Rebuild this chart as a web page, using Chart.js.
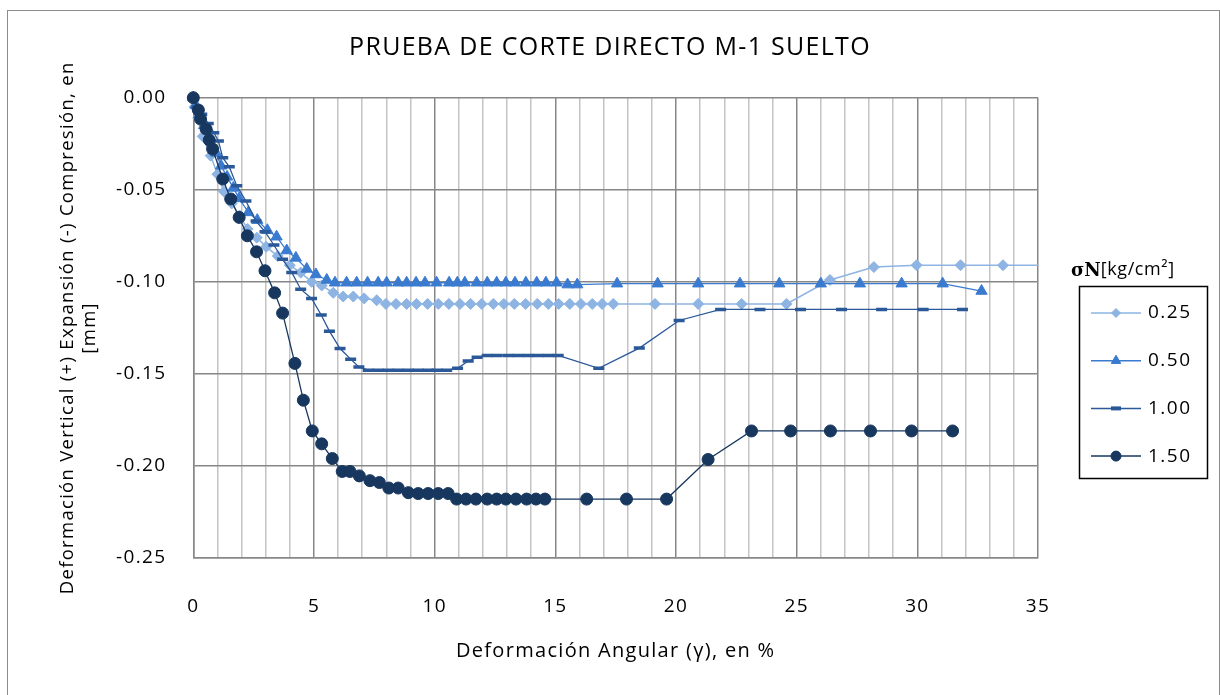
<!DOCTYPE html>
<html>
<head>
  <title>Prueba de corte directo M-1 suelto</title>
  <script src="https://cdn.jsdelivr.net/npm/chart.js@4.4.0/dist/chart.umd.min.js"></script>
  <style>
    body { margin: 0; background: #fff; }
    #wrap { width: 1220px; height: 695px; }
  </style>
</head>
<body>
<div id="wrap"><canvas id="chart" width="1220" height="695"></canvas></div>
<script>
// esfuerzo normal sigmaN [kg/cm2] de cada ensayo
var seriesLabels = ["0.25", "0.50", "1.00", "1.50"];

// deformacion angular (%) y deformacion vertical (mm)
var x025 = [0, 0.05, 0.2, 0.39, 0.72, 1.0, 1.27, 1.59, 1.92, 2.25, 2.63, 3.02, 3.5, 4.0, 4.45, 4.9, 5.32, 5.8, 6.21, 6.63, 7.08, 7.6,
  7.98, 8.4, 8.84, 9.25, 9.71, 10.15, 10.59, 11.05, 11.49, 11.95, 12.43, 12.87, 13.3, 13.77, 14.25, 14.71, 15.14, 15.6, 16.06, 16.53, 16.94, 17.4,
  19.13, 20.92, 22.72, 24.58, 26.38, 28.2, 29.97, 31.79, 33.55, 35.35];
var y025 = [0, -0.005, -0.011, -0.021, -0.0315, -0.0416, -0.051, -0.0574, -0.064, -0.0713, -0.076, -0.081, -0.086, -0.091, -0.095, -0.100, -0.102, -0.106, -0.108, -0.108, -0.109, -0.110,
  -0.112, -0.112, -0.112, -0.112, -0.112, -0.112, -0.112, -0.112, -0.112, -0.112, -0.112, -0.112, -0.112, -0.112, -0.112, -0.112, -0.112, -0.112, -0.112, -0.112, -0.112, -0.112,
  -0.112, -0.112, -0.112, -0.112, -0.099, -0.092, -0.091, -0.091, -0.091, -0.091];

var x050 = [0, 0.1, 0.25, 0.45, 0.7, 0.95, 1.15, 1.4, 1.66, 1.9, 2.28, 2.65, 3.07, 3.45, 3.87, 4.25, 4.7, 5.08, 5.53, 5.87,
  6.35, 6.77, 7.22, 7.66, 8.01, 8.49, 8.84, 9.23, 9.6, 10.08, 10.6, 10.94, 11.25, 11.74, 12.18, 12.57, 12.95, 13.33, 13.78, 14.23, 14.61, 15.05,
  15.51, 15.91, 17.56, 19.24, 20.92, 22.65, 24.28, 26.0, 27.62, 29.35, 31.05, 32.66];
var y050 = [0, -0.004, -0.009, -0.015, -0.022, -0.03, -0.037, -0.043, -0.049, -0.0547, -0.0623, -0.0665, -0.072, -0.0755, -0.083, -0.087, -0.093, -0.096, -0.099, -0.1005,
  -0.1005, -0.1005, -0.1005, -0.1005, -0.1005, -0.1005, -0.1005, -0.1005, -0.1005, -0.1005, -0.1005, -0.1005, -0.1005, -0.1005, -0.1005, -0.1005, -0.1005, -0.1005, -0.1005, -0.1005, -0.1005, -0.1005,
  -0.1015, -0.1015, -0.101, -0.101, -0.101, -0.101, -0.101, -0.101, -0.101, -0.101, -0.101, -0.105];

var x100 = [0, 0.15, 0.35, 0.62, 0.85, 1.04, 1.22, 1.49, 1.8, 2.18, 2.6, 2.97, 3.34, 3.7, 4.08, 4.45, 4.9, 5.3, 5.64, 6.08,
  6.52, 6.86, 7.25, 7.66, 8.08, 8.49, 8.91, 9.32, 9.73, 10.1, 10.5, 10.95, 11.39, 11.76, 12.18, 12.59, 13.05, 13.46, 13.88, 14.29,
  14.71, 15.12, 16.8, 18.48, 20.13, 21.85, 23.48, 25.16, 26.86, 28.52, 30.24, 31.87];
var y100 = [0, -0.005, -0.009, -0.014, -0.019, -0.0235, -0.0326, -0.0375, -0.0478, -0.0561, -0.067, -0.0728, -0.080, -0.0878, -0.0949, -0.104, -0.109, -0.118, -0.1268, -0.1362,
  -0.142, -0.1462, -0.148, -0.148, -0.148, -0.148, -0.148, -0.148, -0.148, -0.148, -0.148, -0.147, -0.143, -0.141, -0.140, -0.140, -0.140, -0.140, -0.140, -0.140,
  -0.140, -0.140, -0.147, -0.136, -0.121, -0.115, -0.115, -0.115, -0.115, -0.115, -0.115, -0.115];

var x150 = [0, 0.21, 0.3, 0.53, 0.66, 0.8, 1.22, 1.55, 1.9, 2.24, 2.62, 2.97, 3.37, 3.7, 4.21, 4.56, 4.93, 5.32, 5.76, 6.17,
  6.49, 6.88, 7.32, 7.71, 8.1, 8.49, 8.91, 9.32, 9.73, 10.15, 10.56, 10.91, 11.3, 11.71, 12.18, 12.57, 12.95, 13.37, 13.81, 14.2,
  14.57, 16.3, 17.95, 19.61, 21.33, 23.13, 24.75, 26.4, 28.06, 29.76, 31.46];
var y150 = [0, -0.0067, -0.0116, -0.017, -0.023, -0.0279, -0.0442, -0.055, -0.065, -0.075, -0.0837, -0.094, -0.106, -0.117, -0.1443, -0.1643, -0.181, -0.188, -0.196, -0.203,
  -0.203, -0.2054, -0.208, -0.209, -0.212, -0.212, -0.2145, -0.215, -0.215, -0.215, -0.215, -0.218, -0.218, -0.218, -0.218, -0.218, -0.218, -0.218, -0.218, -0.218,
  -0.218, -0.218, -0.218, -0.218, -0.1965, -0.181, -0.181, -0.181, -0.181, -0.181, -0.181];

var xTickLabels = [0, 5, 10, 15, 20, 25, 30, 35];
var yTickLabels = [0, -0.05, -0.10, -0.15, -0.20, -0.25];

var FONT = "'Open Sans', sans-serif";

function toPoints(xs, ys) {
  return xs.map(function(x, i) { return { x: x, y: ys[i] }; });
}

// fondo, marco exterior gris y espaciado de letras para todo el texto
var frame = {
  id: "frame",
  beforeDraw: function(chart) {
    var ctx = chart.ctx;
    ctx.save();
    ctx.fillStyle = "#fff";
    ctx.fillRect(0, 0, chart.width, chart.height);
    ctx.strokeStyle = "#8c8c8c";
    ctx.lineWidth = 1;
    ctx.strokeRect(7.5, 10.5, 1212, 700);
    ctx.restore();
    ctx.letterSpacing = "1.3px";
  }
};

// leyenda con recuadro, como en la hoja original
var legendBox = {
  id: "legendBox",
  afterDraw: function(chart) {
    var ctx = chart.ctx;
    ctx.save();
    ctx.textBaseline = "middle";
    ctx.textAlign = "left";
    ctx.fillStyle = "#000";
    ctx.font = "bold 18px 'DejaVu Serif'";
    ctx.letterSpacing = "0px";
    ctx.fillText("σN", 1071, 271);
    var w = ctx.measureText("σN").width;
    ctx.font = "18px " + FONT;
    ctx.letterSpacing = "0.6px";
    ctx.fillText("[kg/cm²]", 1071 + w, 270);

    ctx.strokeStyle = "#000";
    ctx.lineWidth = 1.5;
    ctx.strokeRect(1079.5, 286.5, 128, 192);

    var sizes = [4.5, 5.5, 5, 5];
    chart.data.datasets.forEach(function(ds, i) {
      var y = 313 + i * 47.7;
      ctx.strokeStyle = ds.borderColor;
      ctx.lineWidth = 1.5;
      ctx.beginPath();
      ctx.moveTo(1091, y);
      ctx.lineTo(1141, y);
      ctx.stroke();
      ctx.fillStyle = ds.pointBackgroundColor;
      ctx.strokeStyle = ds.pointBorderColor;
      ctx.lineWidth = ds.pointStyle === "line" ? 4 : 1;
      Chart.helpers.drawPoint(ctx, {
        pointStyle: ds.pointStyle,
        radius: sizes[i],
        borderWidth: ctx.lineWidth,
        rotation: 0
      }, 1116, y);
      ctx.fillStyle = "#000";
      ctx.font = "19px " + FONT;
      ctx.letterSpacing = "1.5px";
      ctx.fillText(ds.label, 1148, y);
    });
    ctx.restore();
  }
};

var ctx = document.getElementById("chart").getContext("2d");
var chart = new Chart(ctx, {
  type: "scatter",
  data: {
    datasets: [{
      label: seriesLabels[0],
      data: toPoints(x025, y025),
      showLine: true,
      borderColor: "#8DB4E2",
      backgroundColor: "#8DB4E2",
      pointBackgroundColor: "#8DB4E2",
      pointBorderColor: "#8DB4E2",
      borderWidth: 1.5,
      pointStyle: "rectRot",
      pointRadius: 5.5,
      pointBorderWidth: 1,
      order: 4,
      clip: { left: 12, top: 12, right: 0, bottom: 0 }
    }, {
      label: seriesLabels[1],
      data: toPoints(x050, y050),
      showLine: true,
      borderColor: "#3A7BD0",
      backgroundColor: "#3A7BD0",
      pointBackgroundColor: "#3A7BD0",
      pointBorderColor: "#3A7BD0",
      borderWidth: 1.3,
      pointStyle: "triangle",
      pointRadius: 6.5,
      pointBorderWidth: 1,
      order: 3,
      clip: { left: 12, top: 12, right: 0, bottom: 0 }
    }, {
      label: seriesLabels[2],
      data: toPoints(x100, y100),
      showLine: true,
      borderColor: "#2A5898",
      backgroundColor: "#2A5898",
      pointBackgroundColor: "#2A5898",
      pointBorderColor: "#2A5898",
      borderWidth: 1.3,
      pointStyle: "line",
      pointRadius: 5.5,
      pointBorderWidth: 3.5,
      order: 2,
      clip: { left: 12, top: 12, right: 0, bottom: 0 }
    }, {
      label: seriesLabels[3],
      data: toPoints(x150, y150),
      showLine: true,
      borderColor: "#17375E",
      backgroundColor: "#17375E",
      pointBackgroundColor: "#17375E",
      pointBorderColor: "#17375E",
      borderWidth: 1.3,
      pointStyle: "circle",
      pointRadius: 6,
      pointBorderWidth: 1,
      order: 1,
      clip: { left: 12, top: 12, right: 0, bottom: 0 }
    }]
  },
  options: {
    responsive: false,
    animation: false,
    devicePixelRatio: 1,
    layout: { padding: 0 },
    plugins: {
      legend: { display: false },
      tooltip: { enabled: false },
      title: {
        display: true,
        text: "PRUEBA DE CORTE DIRECTO M-1 SUELTO",
        color: "#000",
        font: { family: FONT, size: 25, weight: "normal" },
        padding: { top: 33, bottom: 34.7 }
      }
    },
    scales: {
      x: {
        type: "linear",
        min: 0,
        max: 35,
        afterFit: function(scale) { scale.height = 137; },
        ticks: {
          stepSize: 1,
          autoSkip: false,
          maxRotation: 0,
          padding: 37,
          color: "#000",
          font: { family: FONT, size: 19 },
          callback: function(v) { return xTickLabels.indexOf(v) >= 0 ? String(v) : ""; }
        },
        grid: {
          drawTicks: false,
          lineWidth: 1.5,
          color: function(c) { return c.tick && c.tick.value % 5 === 0 ? "#878787" : "#C4C4C4"; }
        },
        border: { color: "#878787", width: 1.5 },
        title: {
          display: true,
          text: "Deformación Angular (γ), en %",
          color: "#000",
          font: { family: FONT, size: 20 },
          padding: { top: 0, bottom: 32 }
        }
      },
      y: {
        type: "linear",
        min: -0.25,
        max: 0,
        afterFit: function(scale) { scale.width = 193.3; },
        ticks: {
          stepSize: 0.05,
          padding: 27,
          color: "#000",
          font: { family: FONT, size: 19 },
          callback: function(v) {
            for (var i = 0; i < yTickLabels.length; i++) {
              if (Math.abs(yTickLabels[i] - v) < 1e-9) return yTickLabels[i].toFixed(2);
            }
            return "";
          }
        },
        grid: { drawTicks: false, lineWidth: 1.5, color: "#878787" },
        border: { color: "#878787", width: 1.5 },
        title: {
          display: true,
          text: ["Deformación Vertical (+) Expansión (-) Compresión, en", "[mm]"],
          color: "#000",
          font: { family: FONT, size: 18.5, lineHeight: 1.2 },
          padding: { top: 56.8, bottom: 0 }
        }
      },
      // eje vacio a la derecha que reserva el sitio de la leyenda
      side: {
        type: "linear",
        position: "right",
        afterFit: function(scale) { scale.width = 182; },
        grid: { display: false, drawTicks: false },
        border: { display: false },
        ticks: { display: false }
      }
    }
  },
  plugins: [frame, legendBox]
});
</script>
</body>
</html>
